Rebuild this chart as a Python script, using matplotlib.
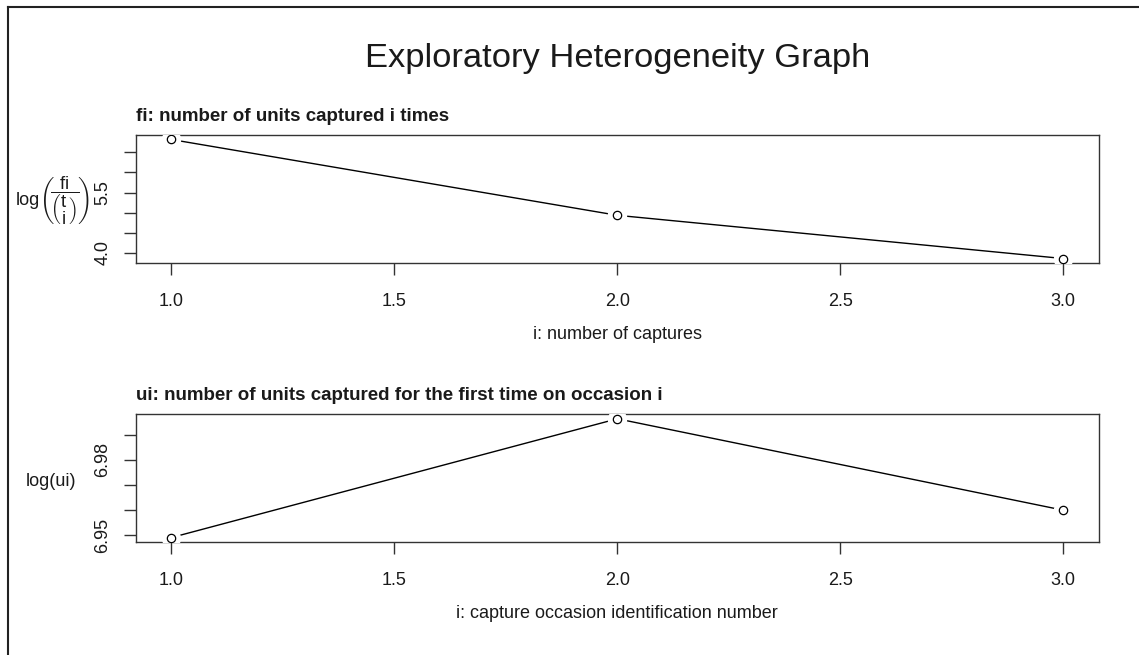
import matplotlib
matplotlib.use("Agg")
import matplotlib.pyplot as plt
from matplotlib.lines import Line2D

# data
captures = [1.0, 2.0, 3.0]
log_fi_binom = [6.82, 4.935, 3.86]
occasions = [1.0, 2.0, 3.0]
log_ui = [6.949, 6.9963, 6.9599]

x_ticks = [1.0, 1.5, 2.0, 2.5, 3.0]
top_yticks = [4.0, 4.5, 5.0, 5.5, 6.0, 6.5]
top_ylabels = ["4.0", "", "", "5.5", "", ""]
bot_yticks = [6.95, 6.96, 6.97, 6.98, 6.99]
bot_ylabels = ["6.95", "", "", "6.98", ""]

plt.rcParams['font.family'] = ['Liberation Sans', 'DejaVu Sans']
plt.rcParams['mathtext.fontset'] = 'custom'
plt.rcParams['mathtext.rm'] = 'Liberation Sans'
plt.rcParams['mathtext.it'] = 'Liberation Sans'

fig = plt.figure(figsize=(11.39, 6.55), dpi=100)

ax1 = fig.add_axes([0.1191, 0.598, 0.8458, 0.1963])
ax2 = fig.add_axes([0.1191, 0.172, 0.8458, 0.1959])


def r_style(ax, x, y, yticks, ylabels, title, xlabel):
    # type = "b": line with gaps around open circles
    ax.plot(x, y, color='black', lw=1, zorder=2)
    ax.plot(x, y, ls='none', marker='o', ms=13, mfc='white', mec='white', zorder=3)
    ax.plot(x, y, ls='none', marker='o', ms=6, mfc='white', mec='black', mew=0.9, zorder=4)
    xr = max(x) - min(x)
    yr = max(y) - min(y)
    ax.set_xlim(min(x) - 0.04 * xr, max(x) + 0.04 * xr)
    ax.set_ylim(min(y) - 0.04 * yr, max(y) + 0.04 * yr)
    ax.set_xticks(x_ticks)
    ax.set_xticklabels(["%.1f" % v for v in x_ticks])
    ax.set_yticks(yticks)
    ax.set_yticklabels(ylabels, rotation=90, va='center')
    ax.tick_params(direction='out', length=8.6, width=1, colors='#333333',
                   labelcolor='#1a1a1a', labelsize=13)
    ax.tick_params(axis='x', pad=13)
    ax.tick_params(axis='y', pad=9)
    for s in ax.spines.values():
        s.set_color('#333333')
        s.set_linewidth(1)
    ax.set_title(title, loc='left', fontsize=13.5, fontweight='bold', pad=10, color='#1a1a1a')
    ax.set_xlabel(xlabel, fontsize=13, labelpad=11, color='#1a1a1a')


r_style(ax1, captures, log_fi_binom, top_yticks, top_ylabels,
        "fi: number of units captured i times", "i: number of captures")
r_style(ax2, occasions, log_ui, bot_yticks, bot_ylabels,
        "ui: number of units captured for the first time on occasion i",
        "i: capture occasion identification number")

# y label of the top panel: log( fi / choose(t, i) )
fig.text(16 / 1139, 1 - 200 / 655, "log", ha='left', va='center', fontsize=13, color='#1a1a1a')
fig.text(39 / 1139, 1 - 201 / 655,
         r'$\left(\!\dfrac{\mathrm{fi}}{\left(\genfrac{}{}{0}{0}{\mathrm{t}}{\mathrm{i}}\right)}\!\right)$',
         ha='left', va='center', fontsize=13.5, color='#1a1a1a')
fig.text(0.045, 1 - 481 / 655, "log(ui)", ha='center', va='center', fontsize=13, color='#1a1a1a')

fig.suptitle("Exploratory Heterogeneity Graph", x=0.542, y=1 - 58 / 655, va='center',
             fontsize=24.8, color='#1a1a1a')

# screenshot frame (left and top edges)
fig.add_artist(Line2D([8 / 1139, 8 / 1139], [0, 1 - 7 / 655], color='#222222', lw=1.5))
fig.add_artist(Line2D([8 / 1139, 1], [1 - 7 / 655, 1 - 7 / 655], color='#222222', lw=1.5))

fig.savefig("out.png", dpi=100)
